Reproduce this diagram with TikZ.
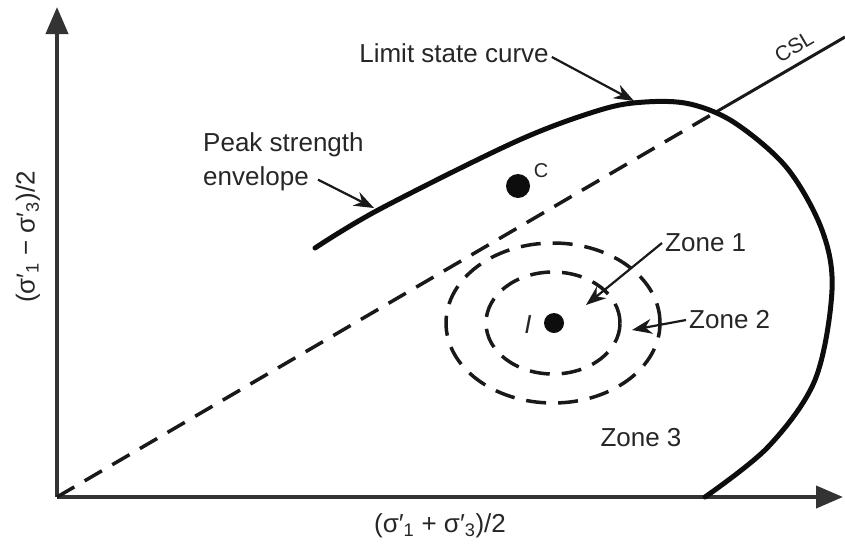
\documentclass[tikz,border=0pt]{standalone}
\usepackage{fontspec}
\setmainfont{Liberation Sans}
\usetikzlibrary{arrows.meta,positioning,calc}

\begin{document}
\begin{tikzpicture}[x=1pt,y=-1pt,
  lbl/.style={font=\fontsize{26}{34}\selectfont,text=black!85,inner sep=3pt},
  ax/.style={line width=4pt,black!80,-{Triangle[length=27pt,width=22pt]}},
  ar/.style={line width=2.2pt,black!90,-{Stealth[length=20pt,width=15pt]}},
  dsh/.style={line width=3.5pt,black!90,dash pattern=on 20pt off 12pt},
  lsc/.style={line width=5pt,black!95,line cap=round},
  dot/.style={circle,fill=black!95,inner sep=0pt}]
  \useasboundingbox (0,0) rectangle (845,544);
  % axes
  \coordinate (o) at (57,497);
  \coordinate (xend) at (843,497);
  \coordinate (yend) at (57,7);
  \draw[ax] (o) -- (xend);
  \draw[ax] (o) -- (yend);
  \node[lbl] (xl) at (440,526) {(σ′\textsubscript{1} + σ′\textsubscript{3})/2};
  \node[lbl,rotate=90] (yl) at (28,237) {(σ′\textsubscript{1} − σ′\textsubscript{3})/2};
  % critical state line
  \coordinate (xc) at (716,112);
  \coordinate (cs) at (845,37);
  \draw[dsh] (o) -- (xc);
  \draw[line width=3pt,black!90] (xc) -- (cs);
  \node[lbl,font=\fontsize{21}{24}\selectfont,rotate=30.5] (csl) at (794,47) {CSL};
  % limit state curve
  \draw[lsc] plot[smooth,tension=0.55] coordinates {(315,248) (380,209) (517,141)
    (600,110) (645,102) (690,104) (735,123) (787,168) (822,230) (832,290)
    (815,380) (768,447) (705,497)};
  % zones
  \draw[dsh] (553,323) ellipse[x radius=67pt,y radius=51pt];
  \draw[dsh] (553,323) ellipse[x radius=107pt,y radius=80pt];
  \node[dot,minimum size=24pt] (c) at (518,186) {};
  \node[lbl,font=\fontsize{20}{24}\selectfont] (cl) at (541,171) {C};
  \node[dot,minimum size=20pt] (i) at (554,323) {};
  \node[lbl] (il) at (528,325) {\textit{I}};
  \node[lbl,anchor=west] (z1) at (662,243) {Zone 1};
  \node[lbl,anchor=west] (z2) at (686,320) {Zone 2};
  \node[lbl] (z3) at (641,438) {Zone 3};
  \coordinate (t1) at (586,305);
  \coordinate (t2) at (632,330);
  \draw[ar] (z1.west) -- (t1);
  \draw[ar] (z2.west) -- (t2);
  % labels of the curve
  \node[lbl] (ls) at (454,53) {Limit state curve};
  \coordinate (tl) at (634,101);
  \draw[ar] ([yshift=-4pt]ls.east) -- (tl);
  \node[lbl,anchor=north west,align=left] (pk) at (200,129) {Peak strength\\envelope};
  \coordinate (tp) at (374,208);
  \draw[ar] ([shift={(118,-14)}]pk.south west) -- (tp);
\end{tikzpicture}
\end{document}
